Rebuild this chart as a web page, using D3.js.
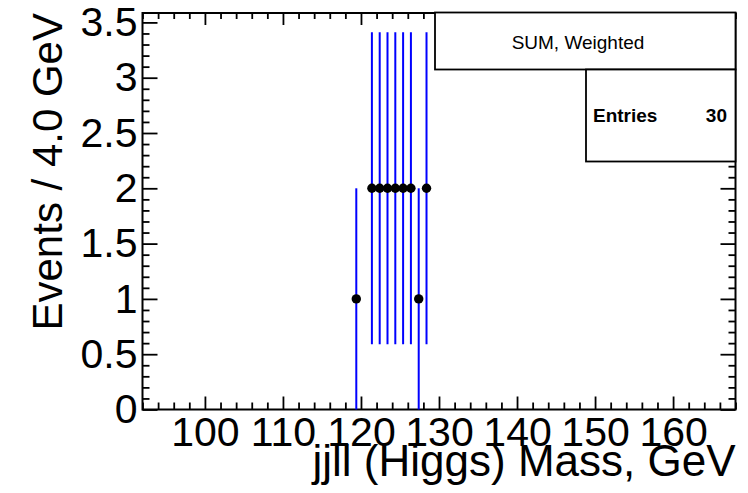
<!DOCTYPE html>
<html>
<head>
<meta charset="utf-8">
<script src="https://cdn.jsdelivr.net/npm/d3@7"></script>
<style>
  body { margin: 0; background: #fff; }
  svg { font-family: 'Liberation Sans', Arial, Helvetica, sans-serif; }
  .tick line { stroke: #000; stroke-width: 1.8; }
</style>
</head>
<body>
<svg width="748" height="493"></svg>
<script>
// data (RooPlot style, bins of 4 GeV)
var massValues = [119.4, 121.4, 122.4, 123.4, 124.4, 125.4, 126.4, 127.4, 128.4];
var events = [1, 2, 2, 2, 2, 2, 2, 1, 2];
var errors = [1, 1.41, 1.41, 1.41, 1.41, 1.41, 1.41, 1, 1.41];
var xTickLabels = [100, 110, 120, 130, 140, 150, 160];
var xMinorTicks = [92, 94, 96, 98, 102, 104, 106, 108, 112, 114, 116, 118, 122, 124, 126, 128, 132, 134, 136, 138, 142, 144, 146, 148, 152, 154, 156, 158, 162, 164, 166, 168];
var yTickLabels = [0, 0.5, 1, 1.5, 2, 2.5, 3, 3.5];
var statTitle = 'SUM, Weighted';
var statEntries = 30;

var svg = d3.select('svg');
// note: "top" is taken by window.top, so use other names
var padL = 142.5, padR = 735.5, padT = 13, padB = 409.5;

var x = d3.scaleLinear().domain([92, 168]).range([padL, padR]);
var y = d3.scaleLinear().domain([0, 3.585]).range([padB, padT]);

// minor y ticks every 0.1
var yMinorTicks = d3.range(0, 36).map(function(i) { return i / 10; })
  .filter(function(v) { return Math.abs(v * 2 - Math.round(v * 2)) > 1e-6; });

function drawAxis(axis, tx, ty, fontSize) {
  var g = svg.append('g').attr('transform', 'translate(' + tx + ',' + ty + ')').call(axis);
  g.select('.domain').remove();
  g.selectAll('text').attr('font-size', fontSize).attr('fill', '#000')
    .attr('font-family', "'Liberation Sans', Arial, sans-serif");
  return g;
}

// bottom axis, ticks pointing up
drawAxis(d3.axisBottom(x).tickValues(xTickLabels).tickSizeInner(-13).tickSizeOuter(0)
  .tickPadding(7).tickFormat(d3.format('d')), 0, padB, 41);
drawAxis(d3.axisBottom(x).tickValues(xMinorTicks).tickSizeInner(-7).tickSizeOuter(0).tickFormat(''), 0, padB, 0);

// top axis, ticks pointing down
drawAxis(d3.axisTop(x).tickValues(xTickLabels).tickSizeInner(-12).tickSizeOuter(0).tickFormat(''), 0, padT, 0);
drawAxis(d3.axisTop(x).tickValues(xMinorTicks).tickSizeInner(-6).tickSizeOuter(0).tickFormat(''), 0, padT, 0);

// left axis, ticks pointing right
drawAxis(d3.axisLeft(y).tickValues(yTickLabels).tickSizeInner(-15).tickSizeOuter(0)
  .tickPadding(5).tickFormat(function(d) { return String(d); }), padL, 0, 41);
drawAxis(d3.axisLeft(y).tickValues(yMinorTicks).tickSizeInner(-7).tickSizeOuter(0).tickFormat(''), padL, 0, 0);

// right axis, ticks pointing left
drawAxis(d3.axisRight(y).tickValues(yTickLabels).tickSizeInner(-15).tickSizeOuter(0).tickFormat(''), padR, 0, 0);
drawAxis(d3.axisRight(y).tickValues(yMinorTicks).tickSizeInner(-7).tickSizeOuter(0).tickFormat(''), padR, 0, 0);

// frame
svg.append('rect')
  .attr('x', padL).attr('y', padT)
  .attr('width', padR - padL).attr('height', padB - padT)
  .attr('fill', 'none').attr('stroke', '#000').attr('stroke-width', 2);

// error bars
svg.selectAll('line.err').data(massValues).enter().append('line')
  .attr('class', 'err')
  .attr('x1', function(d) { return x(d); })
  .attr('x2', function(d) { return x(d); })
  .attr('y1', function(d, i) { return y(Math.max(0, events[i] - errors[i])); })
  .attr('y2', function(d, i) { return y(events[i] + errors[i]); })
  .attr('stroke', '#0000ff').attr('stroke-width', 2);

// points
svg.selectAll('circle.pt').data(massValues).enter().append('circle')
  .attr('class', 'pt')
  .attr('cx', function(d) { return x(d); })
  .attr('cy', function(d, i) { return y(events[i]); })
  .attr('r', 4.7)
  .attr('fill', '#000');

// axis titles
svg.append('text')
  .attr('x', padR).attr('y', 476)
  .attr('text-anchor', 'end')
  .attr('font-size', 44)
  .text('jjll (Higgs) Mass, GeV');

svg.append('text')
  .attr('transform', 'translate(62,' + padT + ') rotate(-90)')
  .attr('text-anchor', 'end')
  .attr('font-size', 42)
  .text('Events / 4.0 GeV');

// stats boxes
svg.append('rect')
  .attr('x', 435).attr('y', 12.5).attr('width', padR - 435).attr('height', 57)
  .attr('fill', '#fff').attr('stroke', '#000').attr('stroke-width', 1.8);
svg.append('text')
  .attr('x', 578).attr('y', 48.5)
  .attr('text-anchor', 'middle')
  .attr('font-size', 19)
  .text(statTitle);

svg.append('rect')
  .attr('x', 586).attr('y', 69.5).attr('width', padR - 586).attr('height', 92)
  .attr('fill', '#fff').attr('stroke', '#000').attr('stroke-width', 1.8);
svg.append('text')
  .attr('x', 593).attr('y', 121.5)
  .attr('font-size', 19).attr('font-weight', 'bold')
  .text('Entries');
svg.append('text')
  .attr('x', 727).attr('y', 121.5)
  .attr('text-anchor', 'end')
  .attr('font-size', 19).attr('font-weight', 'bold')
  .text(statEntries);
</script>
</body>
</html>
